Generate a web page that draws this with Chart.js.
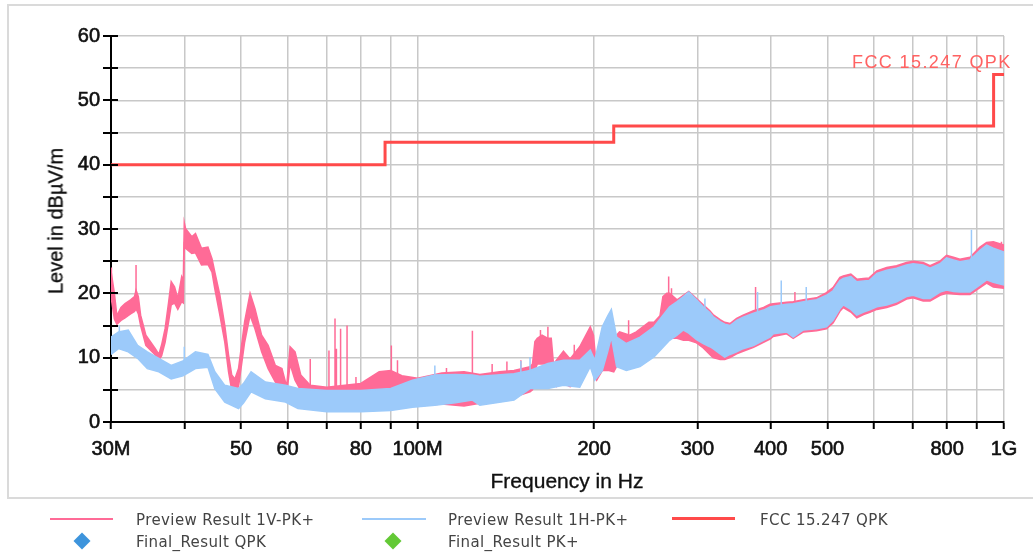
<!DOCTYPE html>
<html>
<head>
<meta charset="utf-8">
<script src="https://cdn.jsdelivr.net/npm/chart.js@4.4.1/dist/chart.umd.min.js"></script>
<style>
  html, body { margin:0; padding:0; background:#fff; }
  #wrap { position:relative; width:1033px; height:555px; overflow:hidden; font-family:"DejaVu Sans", sans-serif; }
  #frame { position:absolute; left:7px; top:4px; width:1040px; height:495px; border:2px solid #dadada; box-sizing:border-box; }
  canvas { position:absolute; left:0; top:0; }
  .ytitle { position:absolute; left:56px; top:221px; transform:translate(-50%,-50%) rotate(-90deg); font-family:"Liberation Sans", Arial, sans-serif; font-size:20px; color:#111; -webkit-text-stroke:0.35px #111; white-space:nowrap; }
  .xtitle { position:absolute; left:567px; top:481px; transform:translate(-50%,-50%); font-family:"Liberation Sans", Arial, sans-serif; font-size:21px; color:#111; -webkit-text-stroke:0.35px #111; white-space:nowrap; }
  .limlabel { position:absolute; left:852px; top:62px; transform:translateY(-50%); font-family:"Liberation Sans", Arial, sans-serif; font-size:18px; letter-spacing:1.4px; color:#ff6262; white-space:nowrap; }
  .leg { position:absolute; font-size:15px; color:#444; white-space:nowrap; transform:translateY(-50%); letter-spacing:0.4px; }
  .lline { position:absolute; height:2px; }
  .diam { position:absolute; width:12px; height:12px; transform:translate(-50%,-50%) rotate(45deg); }
</style>
</head>
<body>
<div id="wrap">
  <div id="frame"></div>
  <canvas id="c" width="1033" height="555"></canvas>
  <div class="ytitle">Level in dBµV/m</div>
  <div class="xtitle">Frequency in Hz</div>
  <div class="limlabel">FCC 15.247 QPK</div>

  <div class="lline" style="left:50px;top:518px;width:63px;background:#ff6b97;"></div>
  <div class="leg" style="left:136px;top:520px;">Preview Result 1V-PK+</div>
  <div class="lline" style="left:362px;top:518px;width:64px;background:#9ccafa;"></div>
  <div class="leg" style="left:448px;top:520px;">Preview Result 1H-PK+</div>
  <div class="lline" style="left:672px;top:517px;width:63px;height:3px;background:#ff4a4a;"></div>
  <div class="leg" style="left:760px;top:520px;">FCC 15.247 QPK</div>

  <div class="diam" style="left:82px;top:541px;background:#3d94dc;"></div>
  <div class="leg" style="left:136px;top:542px;">Final_Result QPK</div>
  <div class="diam" style="left:393px;top:541px;background:#63c936;"></div>
  <div class="leg" style="left:448px;top:542px;">Final_Result PK+</div>
</div>
<script>
// ---- Data (MHz / dBµV/m) ----
const xTickVals   = [30,40,50,60,70,80,90,100,200,300,400,500,600,700,800,900,1000];
const xTickLabels = ['30M','','50','60','','80','','100M','200','300','400','500','','','800','','1G'];
const yTickVals   = [0,5,10,15,20,25,30,35,40,45,50,55,60];

// FCC 15.247 QPK limit (corner points of the stepped line)
const limitF = [30, 88, 88, 216, 216, 960, 960, 1000];
const limitV = [40, 40, 43.5, 43.5, 46, 46, 54, 54];

// Preview Result 1V-PK+ (upper / lower edge of the noisy trace)
const pinkF  = [30.0,30.4,30.7,31.2,31.7,32.4,32.9,33.1,33.4,33.7,34.4,35.7,36.2,36.6,37.1,37.6,38.0,38.5,39.0,39.6,39.85,40.0,40.2,41.2,41.8,42.8,43.9,44.6,45.1,46.0,46.9,47.6,48.2,48.8,49.5,50.7,51.8,52.8,54.2,55.6,57.2,58.7,59.8,60.6,61.8,63.2,65.6,70,80,86,90,94,100,110,120,127.7,138,146,155.5,157,158.5,160,163,166.8,169,170.5,172.5,177.3,182,189,197,199.5,202,206.5,212,216,221,230,236,248,253,259,262,266,269,277,284,290,299,307,315,319,328,334,341,350,359,374,389,399,404,426,437,455,479,498,511,525,532,548,561,576,589,607,631,656,682,700,728,748,778,798,820,841,875,910,934,959,1000];
const pinkHi = [23.5,20.0,16.5,17.8,18.4,19.0,19.5,20.5,19.5,16.6,13.5,11.4,10.5,12.0,14.5,18.5,21.8,21.0,19.2,22.6,22.0,31.0,30.1,28.8,29.3,27.0,27.2,25.4,23.3,19.7,15.0,10.4,7.3,6.7,8.3,15.6,20.0,17.6,13.5,11.9,8.8,8.3,5.5,11.7,10.9,7.3,5.7,5.4,6.0,7.8,8.0,7.2,6.8,7.6,7.8,7.4,7.8,8.0,8.6,9.0,12.5,13.0,13.5,13.0,13.0,9.0,9.6,11.0,9.8,11.7,14.8,13.5,8.0,10.5,13.2,13.0,14.0,13.5,14.0,15.5,15.5,16.5,19.5,20.0,20.0,19.0,19.7,20.3,19.2,18.2,17.3,16.7,15.9,15.5,15.3,16.1,16.6,17.3,17.8,18.3,18.4,18.6,18.7,19.0,19.3,20.1,20.9,22.5,22.7,23.0,22.2,22.3,22.4,23.5,24.0,24.3,24.8,25.0,24.8,24.3,25.0,25.9,25.6,25.3,25.6,27.2,27.9,28.0,27.5];
const pinkLo = [19.5,16.0,15.2,15.8,16.2,16.8,17.2,17.6,16.8,15.0,11.9,10.4,9.6,10.3,12.4,15.5,18.2,18.5,17.5,18.7,18.5,27.5,27.0,26.2,26.3,24.4,24.5,23.3,20.7,16.6,12.4,7.8,4.9,4.9,5.5,12.4,16.6,14.5,10.9,8.3,6.2,5.2,4.2,9.0,6.5,4.9,3.9,3.5,3.4,4.4,4.6,4.2,2.5,2.8,2.5,2.9,3.4,3.9,4.7,5.0,8.0,9.0,9.0,9.0,8.5,6.0,5.5,6.0,5.5,6.0,9.0,7.5,6.5,8.0,8.0,7.8,9.5,9.0,9.5,10.5,11.0,12.0,13.5,14.0,13.0,13.0,12.7,12.7,12.3,11.5,10.5,10.0,9.7,9.7,10.0,10.6,11.0,11.6,12.4,12.9,13.3,13.7,13.0,14.0,14.2,14.5,15.4,17.2,17.8,17.1,16.2,16.7,17.0,17.5,17.8,18.3,19.1,19.3,18.8,18.8,19.7,20.0,19.9,19.8,19.8,20.9,21.6,21.0,20.8];

// Preview Result 1H-PK+ (upper / lower edge of the noisy trace)
const blueF  = [30.0,30.9,32.1,33.3,34.6,36.2,38.0,39.8,41.8,43.9,45.1,46.9,49.5,50.5,52.0,55.0,59.5,62.5,70,80,90,98,107,116,124,127.7,146,155.5,166.8,177.3,189,197,200.5,206.5,211,214,218.5,227,239.5,253,269,277,284,290,299,307,315,319,328,334,341,350,359,374,389,399,404,426,437,455,479,498,511,525,532,548,561,576,589,607,631,656,682,700,728,748,778,798,820,841,875,910,934,959,1000];
const blueHi = [13.2,14.0,14.3,11.9,10.9,9.9,8.8,9.5,10.9,10.5,7.8,5.7,5.2,6.0,7.8,6.2,5.7,5.2,4.9,4.9,5.2,6.5,7.3,7.4,7.3,7.1,7.5,8.0,9.1,9.6,9.6,11.2,9.6,14.8,16.5,17.5,13.2,12.2,13.2,14.8,17.9,18.7,19.5,20.2,19.0,17.9,17.0,16.4,15.6,15.2,15.0,15.8,16.3,16.9,17.4,17.9,18.0,18.3,18.4,18.7,19.0,19.7,20.4,22.0,22.3,22.6,21.8,21.9,22.0,23.1,23.6,23.9,24.4,24.6,24.4,23.9,24.6,25.5,25.2,24.9,25.2,26.7,27.5,27.0,26.4];
const blueLo = [10.5,11.4,10.9,9.9,8.3,7.8,6.7,7.2,8.3,8.5,5.2,3.1,2.1,3.0,4.7,3.6,3.1,2.1,1.6,1.6,1.8,2.3,2.6,3.0,3.4,2.6,3.4,5.2,5.2,5.7,5.4,8.6,6.5,8.0,11.0,13.2,8.6,8.0,8.6,10.1,12.7,13.5,14.3,13.8,12.8,12.2,11.7,11.4,10.6,10.1,10.5,10.9,11.4,11.9,12.7,13.2,13.7,14.0,13.2,14.3,14.5,14.8,15.8,17.6,18.2,17.5,16.6,17.1,17.4,17.9,18.2,18.7,19.5,19.7,19.2,19.2,20.2,20.5,20.3,20.2,20.2,21.3,22.1,21.7,21.3];

// Narrow spikes (frequency, level at the band, spike top)
const pinkSpikeF    = [30.05,33.1,65.6,70.6,72.3,72.7,73.9,75.8,78.5,90.2,92.4,112,124,134,142,150,162,166.8,185,229,268,271,377,440,990];
const pinkSpikeBase = [20.0,20.0,5.5,5.0,5.0,5.0,5.0,5.0,5.0,7.0,7.0,7.0,7.0,7.5,7.5,8.0,12.0,12.0,9.0,13.0,19.0,18.0,17.0,18.0,25.0];
const pinkSpikeTop  = [24.0,24.4,9.8,11.1,16.1,11.4,14.5,15.0,7.0,11.9,9.6,8.4,14.2,9.0,9.4,9.6,14.3,14.8,12.0,15.8,22.6,20.8,21.0,20.2,28.0];
const blueSpikeF    = [31.0,40.0,107,150,155.5,309,380,417,460,880];
const blueSpikeBase = [13.0,9.0,7.0,7.5,8.0,17.5,17.0,18.0,18.5,25.0];
const blueSpikeTop  = [15.0,11.7,8.8,9.5,10.1,19.2,20.2,22.0,21.0,29.9];

// ---- Build datasets ----
const PINK = '#ff6b97', BLUE = '#9ccafa', RED = '#ff4a4a';
const pts = (xs, ys) => xs.map((x, i) => ({x, y: ys[i]}));
function spikePts(fs, bs, ts) {
  const out = [];
  fs.forEach((f, i) => { out.push({x:f, y:bs[i]}, {x:f, y:ts[i]}, {x:f, y:null}); });
  return out;
}
const lineBase = { pointRadius:0, tension:0, spanGaps:false };

const datasets = [
  Object.assign({ label:'1V lo', data:pts(pinkF, pinkLo), borderColor:PINK, borderWidth:1.5, fill:false, order:5 }, lineBase),
  Object.assign({ label:'1V hi', data:pts(pinkF, pinkHi), borderColor:PINK, borderWidth:1.5, backgroundColor:PINK, fill:'-1', order:4 }, lineBase),
  Object.assign({ label:'1V spikes', data:spikePts(pinkSpikeF, pinkSpikeBase, pinkSpikeTop), borderColor:PINK, borderWidth:1.5, fill:false, order:3 }, lineBase),
  Object.assign({ label:'1H lo', data:pts(blueF, blueLo), borderColor:BLUE, borderWidth:1.5, fill:false, order:2.5 }, lineBase),
  Object.assign({ label:'1H hi', data:pts(blueF, blueHi), borderColor:BLUE, borderWidth:1.5, backgroundColor:BLUE, fill:'-1', order:2 }, lineBase),
  Object.assign({ label:'1H spikes', data:spikePts(blueSpikeF, blueSpikeBase, blueSpikeTop), borderColor:BLUE, borderWidth:1.5, fill:false, order:1 }, lineBase),
  Object.assign({ label:'FCC 15.247 QPK', data:pts(limitF, limitV), borderColor:RED, borderWidth:3, fill:false, order:0 }, lineBase)
];

// Y tick marks crossing the axis
const yTickMarks = {
  id:'yTickMarks',
  afterDraw(chart) {
    const ys = chart.scales.y, ctx = chart.ctx, x0 = chart.chartArea.left;
    ctx.save();
    ctx.strokeStyle = '#000'; ctx.lineWidth = 2;
    yTickVals.forEach(v => {
      const y = Math.round(ys.getPixelForValue(v));
      ctx.beginPath(); ctx.moveTo(x0 - 8, y); ctx.lineTo(x0 + 7, y); ctx.stroke();
    });
    ctx.restore();
  }
};

const tickFont = { family:'"Liberation Sans", Arial, sans-serif', size:20 };

new Chart(document.getElementById('c'), {
  type:'line',
  data:{ datasets },
  options:{
    responsive:false, animation:false, devicePixelRatio:1,
    layout:{ padding:{ left:0, top:36, right:29, bottom:0 } },
    plugins:{ legend:{ display:false }, tooltip:{ enabled:false } },
    scales:{
      x:{
        type:'logarithmic', min:30, max:1000,
        afterBuildTicks(s){ s.ticks = xTickVals.map(v => ({ value:v })); },
        afterFit(s){ s.height = 133; },
        grid:{ color:'#c8c8c8', lineWidth:1.5, drawTicks:true, tickLength:7, tickColor:'#000', tickWidth:2 },
        border:{ display:true, color:'#000', width:2 },
        ticks:{
          autoSkip:false, maxRotation:0, padding:8, color:'#111',
          textStrokeColor:'#111', textStrokeWidth:0.6,
          font:tickFont,
          callback(v){ const i = xTickVals.indexOf(v); return i >= 0 ? xTickLabels[i] : ''; }
        }
      },
      y:{
        type:'linear', min:0, max:60,
        afterBuildTicks(s){ s.ticks = yTickVals.map(v => ({ value:v })); },
        afterFit(s){ s.width = 111; },
        grid:{ color:'#c8c8c8', lineWidth:1.5, drawTicks:false },
        border:{ display:true, color:'#000', width:2 },
        ticks:{
          padding:11, color:'#111', textStrokeColor:'#111', textStrokeWidth:0.6,
          font:tickFont,
          callback(v){ return v % 10 === 0 ? String(v) : ''; }
        }
      }
    }
  },
  plugins:[yTickMarks]
});
</script>
</body>
</html>
